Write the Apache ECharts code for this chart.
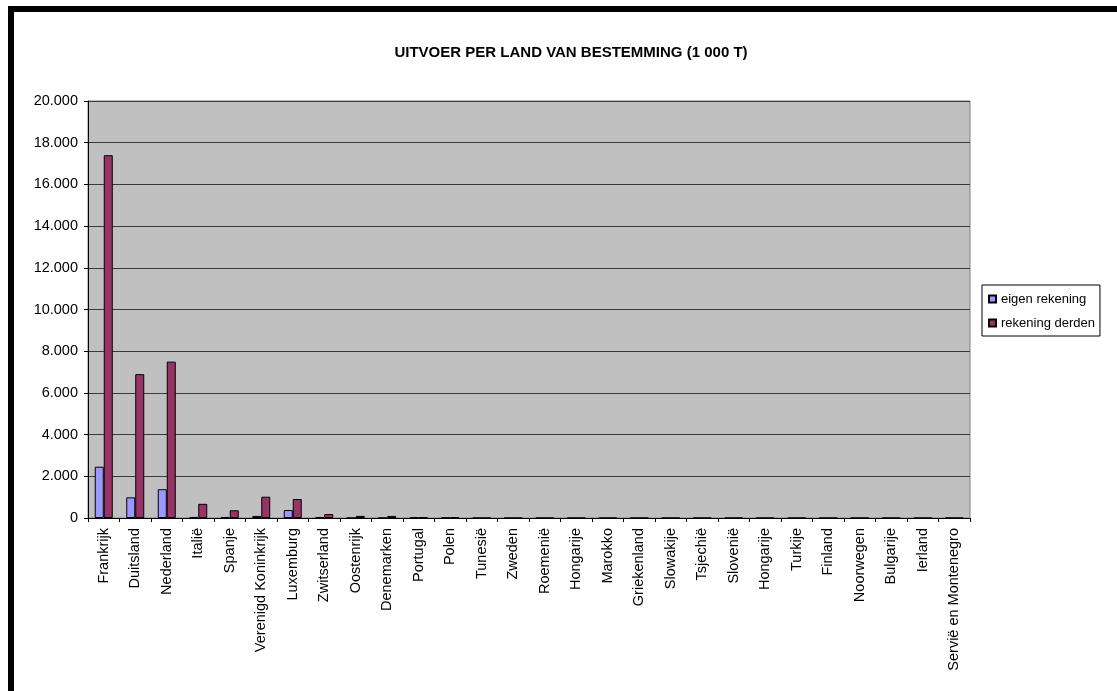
<!DOCTYPE html>
<html>
<head>
<meta charset="utf-8">
<script src="https://cdn.jsdelivr.net/npm/echarts@6/dist/echarts.min.js"></script>
<style>
  html, body { margin: 0; padding: 0; background: #fff; }
  #chart { width: 1117px; height: 691px; }
</style>
</head>
<body>
<div id="chart"></div>
<script>
const countries = [
  "Frankrijk", "Duitsland", "Nederland", "Italië", "Spanje", "Verenigd Koninkrijk",
  "Luxemburg", "Zwitserland", "Oostenrijk", "Denemarken", "Portugal", "Polen",
  "Tunesië", "Zweden", "Roemenië", "Hongarije", "Marokko", "Griekenland",
  "Slowakije", "Tsjechië", "Slovenië", "Hongarije", "Turkije", "Finland",
  "Noorwegen", "Bulgarije", "Ierland", "Servië en Montenegro"
];
const eigenRekening = [2460, 990, 1380, 50, 50, 100, 380, 50, 0, 0, 20, 10, 0, 0, 0, 0, 0, 0, 0, 0, 0, 0, 0, 0, 0, 0, 0, 0];
const rekeningDerden = [17400, 6900, 7500, 680, 370, 1020, 910, 190, 100, 100, 40, 40, 0, 0, 0, 0, 0, 0, 0, 0, 0, 0, 0, 0, 0, 0, 0, 0];
const yTicks = { min: 0, max: 20000, interval: 2000 };

const chart = echarts.init(document.getElementById("chart"), null, { renderer: "canvas" });

const font = "Arial, 'Liberation Sans', sans-serif";
const fmt = (v) => String(v).replace(/\B(?=(\d{3})+(?!\d))/g, ".");

chart.setOption({
  animation: false,
  backgroundColor: "#fff",
  textStyle: { fontFamily: font, color: "#000" },
  title: {
    text: "UITVOER PER LAND VAN BESTEMMING (1 000 T)",
    left: 566,
    textAlign: "center",
    top: 40,
    textStyle: { fontSize: 15, fontWeight: "bold", color: "#000", fontFamily: font },
  },
  // black frame on top and left, as in the source
  graphic: [
    { type: "rect", shape: { x: 8, y: 6, width: 1109, height: 6 }, style: { fill: "#000" }, silent: true },
    { type: "rect", shape: { x: 8, y: 6, width: 6, height: 685 }, style: { fill: "#000" }, silent: true },
  ],
  legend: {
    orient: "vertical",
    left: 982,
    top: 285,
    padding: [6, 5, 5, 6],
    itemGap: 8,
    itemWidth: 7,
    itemHeight: 7,
    icon: "rect",
    borderColor: "#000",
    borderWidth: 1,
    backgroundColor: "#fff",
    textStyle: { fontSize: 13, color: "#000", lineHeight: 16 },
    data: ["eigen rekening", "rekening derden"],
  },
  grid: {
    left: 88,
    right: 147,
    top: 101,
    bottom: 173,
    show: true,
    backgroundColor: "#C0C0C0",
    borderColor: "#808080",
    borderWidth: 1,
  },
  xAxis: {
    type: "category",
    data: countries,
    axisLine: { lineStyle: { color: "#000", width: 1 } },
    axisTick: { show: true, length: 4, lineStyle: { color: "#000" } },
    axisLabel: { rotate: 90, interval: 0, fontSize: 14.5, color: "#000", margin: 10 },
  },
  yAxis: {
    type: "value",
    min: yTicks.min,
    max: yTicks.max,
    interval: yTicks.interval,
    axisLine: { show: true, lineStyle: { color: "#000", width: 1 } },
    axisTick: { show: true, length: 4, lineStyle: { color: "#000" } },
    axisLabel: { fontSize: 14.5, color: "#000", margin: 10, formatter: fmt },
    splitLine: { show: true, lineStyle: { color: "#3a3a3a", width: 1 } },
  },
  series: [
    {
      name: "eigen rekening",
      type: "bar",
      data: eigenRekening,
      barWidth: 9,
      barGap: "0%",
      itemStyle: { color: "#9999FF", borderColor: "#000", borderWidth: 1 },
    },
    {
      name: "rekening derden",
      type: "bar",
      data: rekeningDerden,
      barWidth: 9,
      barGap: "0%",
      itemStyle: { color: "#993366", borderColor: "#000", borderWidth: 1 },
    },
  ],
});
</script>
</body>
</html>
